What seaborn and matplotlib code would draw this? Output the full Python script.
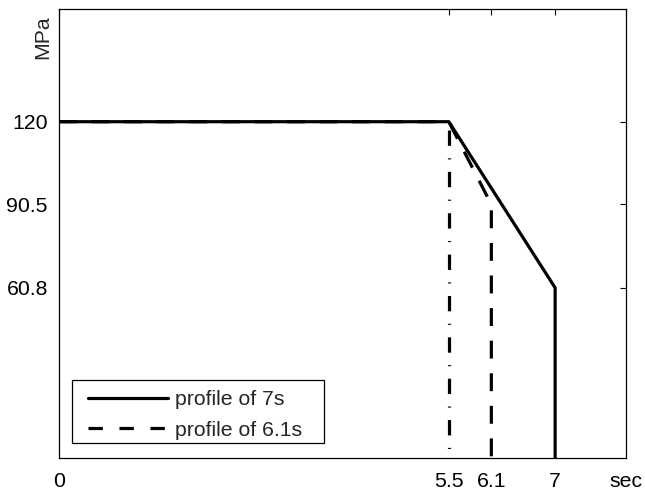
import matplotlib
matplotlib.use("Agg")
import matplotlib.pyplot as plt
from matplotlib.patches import Rectangle
import seaborn as sns
import pandas as pd

# Data
t_7s = [0, 5.5, 7.0, 7.0]
v_7s = [120, 120, 60.8, 0]
t_61s = [0, 5.5, 6.1, 6.1]
v_61s = [120, 120, 90.5, 0]
t_mark = [5.5, 5.5]
v_mark = [117, 0]
x_ticks = [0, 5.5, 6.1, 7, 8]
x_ticklabels = ["0", "5.5", "6.1", "7", "sec"]
y_ticks = [60.8, 90.5, 120]
y_ticklabels = ["60.8", "90.5", "120"]
labels = ["profile of 7s", "profile of 6.1s"]

sns.set_style("white")
plt.rcParams["font.family"] = ["Liberation Sans", "DejaVu Sans"]

fig = plt.figure(figsize=(6.45, 4.9), dpi=100)
ax = fig.add_axes([59/645, (490-458.3)/490, 567/645, 448.8/490])

df7 = pd.DataFrame({"t": t_7s, "v": v_7s})
df61 = pd.DataFrame({"t": t_61s, "v": v_61s})
dfm = pd.DataFrame({"t": t_mark, "v": v_mark})

lw = 2.3
sns.lineplot(data=df7, x="t", y="v", sort=False, estimator=None, ax=ax,
             color="black", linewidth=lw, label=labels[0])
sns.lineplot(data=df61, x="t", y="v", sort=False, estimator=None, ax=ax,
             color="black", linewidth=lw, label=labels[1], dashes=False)
ax.lines[1].set_dashes([5.6, 4.6])
sns.lineplot(data=dfm, x="t", y="v", sort=False, estimator=None, ax=ax,
             color="black", linewidth=lw, legend=False)
ax.lines[2].set_dashes([4.8, 3.9, 0.35, 3.9])

ax.set_xlim(0, 8)
ax.set_ylim(0, 160)
ax.set_xticks(x_ticks)
ax.set_xticklabels(x_ticklabels)
ax.set_yticks(y_ticks)
ax.set_yticklabels(y_ticklabels)
ax.set_xlabel("")
ax.set_ylabel("")
fs = 15.3
ax.tick_params(direction="in", length=4, width=0.8, top=True, right=True,
               labelsize=fs, colors="black")
ax.tick_params(axis="x", pad=10)
ax.tick_params(axis="y", pad=8)
for s in ax.spines.values():
    s.set_visible(True)
    s.set_color("black")
    s.set_linewidth(0.9)

ax.text(-0.028, 0.939, "MPa", transform=ax.transAxes, rotation=90,
        ha="center", va="center", fontsize=fs)

# legend frame drawn as a separate box
x0 = (72 - 59) / 567
x1 = (324 - 59) / 567
y0 = (458.3 - 443) / 448.8
y1 = (458.3 - 380) / 448.8
ax.add_patch(Rectangle((x0, y0), x1 - x0, y1 - y0, transform=ax.transAxes,
                       facecolor="white", edgecolor="black", linewidth=0.9,
                       zorder=4))

leg = ax.legend(loc="lower left", bbox_to_anchor=((88 - 59) / 567, (458.3 - 439.5) / 448.8),
                borderaxespad=0, borderpad=0, fontsize=fs, frameon=False,
                handlelength=3.75, handletextpad=0.33, labelspacing=0.52)
leg.set_zorder(5)
leg_lines = leg.get_lines()
leg_lines[1].set_dashes([4.5, 5.2])

fig.savefig("out.png", dpi=100)
